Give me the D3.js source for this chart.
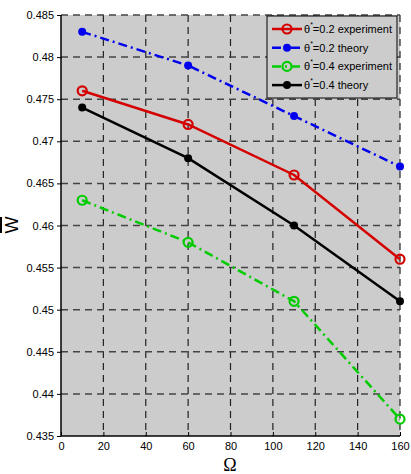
<!DOCTYPE html>
<html><head><meta charset="utf-8">
<script src="https://cdn.jsdelivr.net/npm/d3@7"></script>
<style>body{margin:0;background:#fff}svg{display:block}</style>
</head><body>
<svg id="c" width="411" height="474"></svg>
<script>
const omega = [10, 60, 110, 160];
const exp02 = [0.476, 0.472, 0.466, 0.456];
const th02 = [0.483, 0.479, 0.473, 0.467];
const exp04 = [0.463, 0.458, 0.451, 0.437];
const th04 = [0.474, 0.468, 0.460, 0.451];
const xTicks = [0,20,40,60,80,100,120,140,160];
const yTicks = [0.435,0.44,0.445,0.45,0.455,0.46,0.465,0.47,0.475,0.48,0.485];
const seriesNames = ["=0.2 experiment","=0.2 theory","=0.4 experiment","=0.4 theory"];

const svg = d3.select("#c");
const L=61, R=400, T=15, B=436;
const x = d3.scaleLinear().domain([0,160]).range([L,R]);
const y = d3.scaleLinear().domain([0.435,0.485]).range([B,T]);

svg.append("rect").attr("x",L).attr("y",T).attr("width",R-L).attr("height",B-T).attr("fill","#cccccc");

// grid
const g = svg.append("g");
g.selectAll(".gx").data(xTicks.slice(1)).join("line")
 .attr("x1",d=>x(d)).attr("x2",d=>x(d)).attr("y1",T).attr("y2",B)
 .attr("stroke","#222").attr("stroke-width",1.2).attr("stroke-dasharray","7,5");
g.selectAll(".gy").data(yTicks.slice(1)).join("line")
 .attr("y1",d=>y(d)).attr("y2",d=>y(d)).attr("x1",L).attr("x2",R)
 .attr("stroke","#444").attr("stroke-width",1.5).attr("stroke-dasharray","7,5");

// axes
const xa = svg.append("g").attr("transform",`translate(0,${B})`)
 .call(d3.axisBottom(x).tickValues(xTicks).tickSize(-4).tickPadding(6).tickFormat(d3.format("d")));
const ya = svg.append("g").attr("transform",`translate(${L},0)`)
 .call(d3.axisLeft(y).tickValues(yTicks).tickSize(4).tickPadding(3).tickFormat(d=>String(+d.toFixed(3))));
[xa,ya].forEach(a=>{
  a.select(".domain").attr("stroke","#000").attr("stroke-width",1.5);
  a.selectAll(".tick line").attr("stroke","#000");
  a.selectAll("text").attr("font-family","Liberation Sans, Arial, sans-serif").attr("font-size",11).attr("fill","#000");
});
ya.select(".domain").attr("d",`M0,${B}V${T}`);
xa.select(".domain").attr("d",`M${L},0H${R}`);

const series = [
 {v:exp02, color:"#d40000", dash:null, marker:"o"},
 {v:th02, color:"#0000ee", dash:"9,4,2,4", marker:"dot"},
 {v:exp04, color:"#00cc00", dash:"9,4,2,4", marker:"o"},
 {v:th04, color:"#000000", dash:null, marker:"dot"}
];
const line = d3.line().x((d,i)=>x(omega[i])).y(d=>y(d));
series.forEach(s=>{
  svg.append("path").attr("d",line(s.v)).attr("fill","none")
   .attr("stroke",s.color).attr("stroke-width",2.5).attr("stroke-dasharray",s.dash);
  s.v.forEach((d,i)=>{
    if(s.marker==="o") svg.append("circle").attr("cx",x(omega[i])).attr("cy",y(d)).attr("r",4.5)
      .attr("fill","none").attr("stroke",s.color).attr("stroke-width",2.2);
    else svg.append("circle").attr("cx",x(omega[i])).attr("cy",y(d)).attr("r",4).attr("fill",s.color);
  });
});

// legend
const lg = svg.append("g");
lg.append("rect").attr("x",267).attr("y",16).attr("width",130).attr("height",82)
 .attr("fill","#cccccc").attr("stroke","#000").attr("stroke-width",1);
series.forEach((s,i)=>{
  const yy = 29 + i*18.7;
  lg.append("line").attr("x1",272).attr("x2",302).attr("y1",yy).attr("y2",yy)
   .attr("stroke",s.color).attr("stroke-width",2.5).attr("stroke-dasharray",s.dash);
  if(s.marker==="o") lg.append("circle").attr("cx",287).attr("cy",yy).attr("r",4.5).attr("fill","none").attr("stroke",s.color).attr("stroke-width",2.2);
  else lg.append("circle").attr("cx",287).attr("cy",yy).attr("r",4).attr("fill",s.color);
  const t = lg.append("text").attr("x",304).attr("y",yy+4).attr("font-family","Liberation Sans, Arial, sans-serif").attr("font-size",11).attr("fill","#000");
  t.append("tspan").text("θ");
  t.append("tspan").attr("dy",-6).attr("font-size",7).text("*");
  t.append("tspan").attr("dy",6).text(seriesNames[i]);
});

// axis labels
svg.append("text").attr("x",230).attr("y",471).attr("text-anchor","middle")
 .attr("font-family","Liberation Serif, Times New Roman, serif").attr("font-size",18).text("Ω");
const yl = svg.append("g").attr("transform","translate(18,225) rotate(-90)");
yl.append("text").attr("text-anchor","middle").attr("font-family","Liberation Sans, Arial, sans-serif")
 .attr("font-size",18).attr("y",0).text("W");
yl.append("line").attr("x1",-8).attr("x2",8).attr("y1",-17).attr("y2",-17).attr("stroke","#000").attr("stroke-width",2);
</script>
</body></html>
